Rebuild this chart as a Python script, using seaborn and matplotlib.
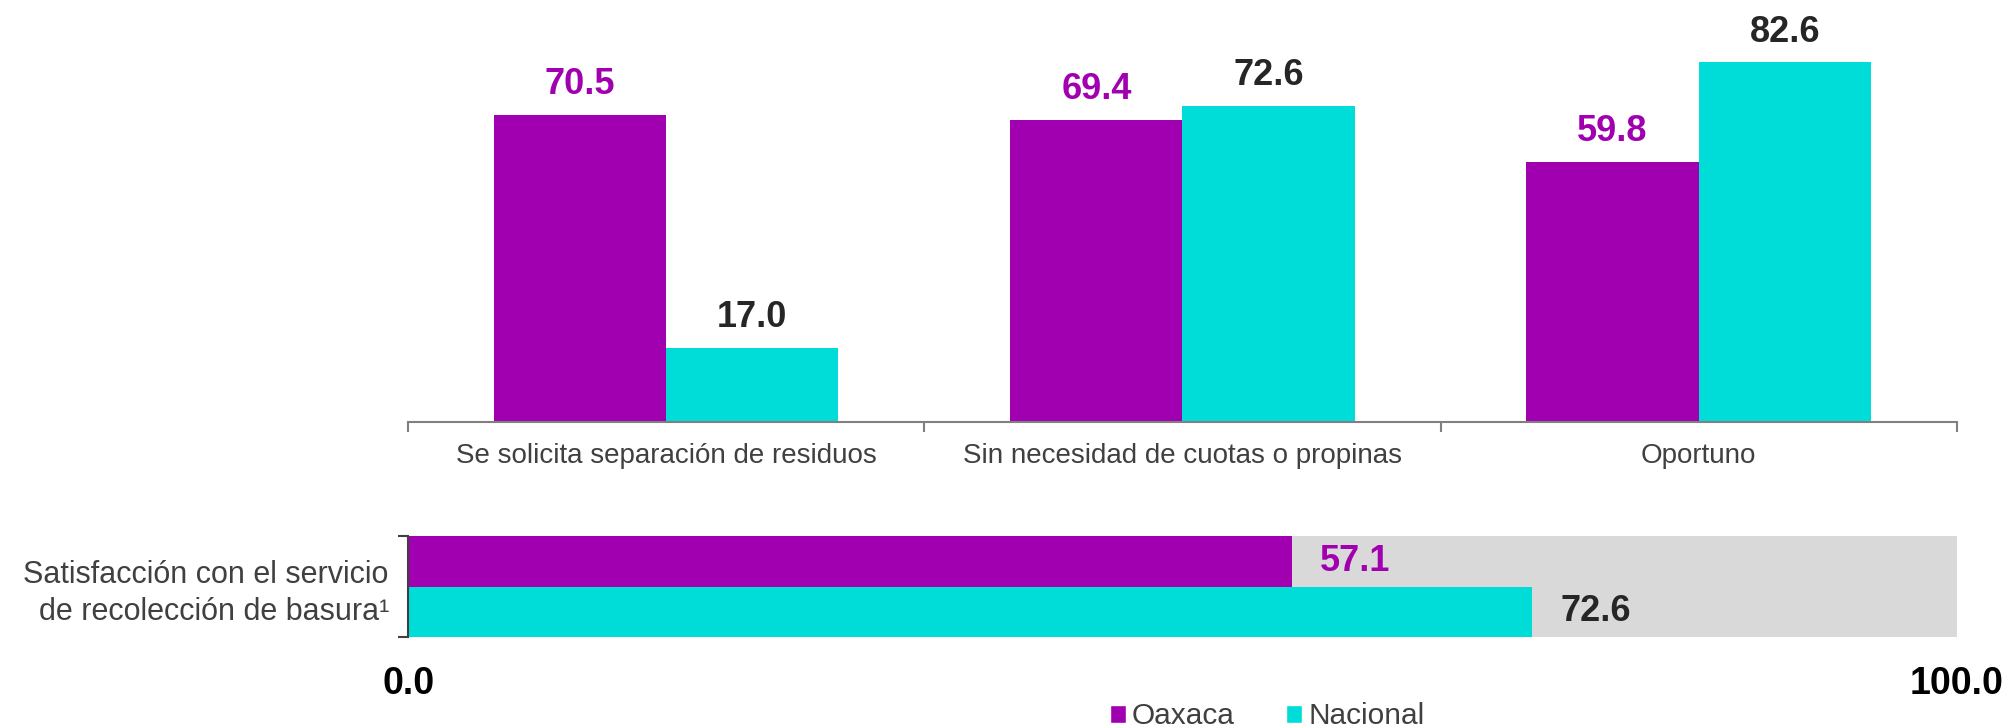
import matplotlib
matplotlib.use('Agg')
import matplotlib.pyplot as plt
from matplotlib.patches import Patch
import pandas as pd
import seaborn as sb

# Datos
categorias = ['Se solicita separación de residuos',
              'Sin necesidad de cuotas o propinas',
              'Oportuno']
series = ['Oaxaca', 'Nacional']
oaxaca = [70.5, 69.4, 59.8]
nacional = [17.0, 72.6, 82.6]

satisf_label = 'Satisfacción con el servicio\nde recolección de basura¹'
satisf_valores = [57.1, 72.6]   # Oaxaca, Nacional
eje_ticks = [0, 100]
eje_labels = ['0.0', '100.0']

colores = ['#A100B0', '#00DDD8']
color_etiquetas = ['#A100B0', '#262626']

df = pd.DataFrame({
    'categoria': categorias * 2,
    'serie': [series[0]] * 3 + [series[1]] * 3,
    'valor': oaxaca + nacional,
})
df2 = pd.DataFrame({
    'grupo': [satisf_label] * 2,
    'serie': series,
    'valor': satisf_valores,
})

sb.set_style('white')
plt.rcParams['font.family'] = ['Liberation Sans', 'DejaVu Sans']

fig = plt.figure(figsize=(20.11, 7.28), dpi=100)
ax1 = fig.add_axes([0.203, 0.4203, 0.770, 0.5797])
ax2 = fig.add_axes([0.203, 0.125, 0.770, 0.1387])

# Panel superior: barras verticales
sb.barplot(data=df, x='categoria', y='valor', hue='serie', hue_order=series,
           palette=colores, saturation=1, width=0.667, linewidth=0,
           ax=ax1, legend=False)
for cont, col in zip(ax1.containers, color_etiquetas):
    ax1.bar_label(cont, fmt='%.1f', padding=9, color=col,
                  fontsize=26, fontweight='bold')

ax1.set_xlim(-0.5, 2.5)
ax1.set_ylim(0, 96.9)
ax1.set_xlabel('')
ax1.set_ylabel('')
ax1.set_yticks([])
for s in ['left', 'top', 'right']:
    ax1.spines[s].set_visible(False)
ax1.spines['bottom'].set_color('#808080')
ax1.spines['bottom'].set_linewidth(1.5)
ax1.set_xticks([-0.5, 0.5, 1.5, 2.5], minor=True)
ax1.tick_params(axis='x', which='minor', bottom=True, direction='out',
                length=7, width=1.5, color='#808080')
ax1.tick_params(axis='x', which='major', bottom=True, length=0, pad=15,
                labelsize=20, labelcolor='#404040')

# Panel inferior: barras horizontales sobre fondo gris
sb.barplot(data=df2, x='valor', y='grupo', hue='serie', hue_order=series,
           palette=colores, saturation=1, width=1.0, linewidth=0,
           orient='h', ax=ax2, legend=False)
for cont, col in zip(ax2.containers, color_etiquetas):
    ax2.bar_label(cont, fmt='%.1f', padding=20, color=col,
                  fontsize=26, fontweight='bold')

ax2.set_facecolor('#D9D9D9')
ax2.set_xlim(0, 100)
ax2.set_ylim(0.5, -0.5)
ax2.set_xlabel('')
ax2.set_ylabel('')
for s in ['bottom', 'top', 'right']:
    ax2.spines[s].set_visible(False)
ax2.spines['left'].set_color('#404040')
ax2.spines['left'].set_linewidth(1.5)
ax2.set_yticks([-0.5, 0.5], minor=True)
ax2.tick_params(axis='y', which='minor', left=True, direction='out',
                length=7, width=1.5, color='#404040')
ax2.tick_params(axis='y', which='major', left=True, length=0, pad=14,
                labelsize=22, labelcolor='#404040')
for t in ax2.get_yticklabels():
    t.set_linespacing(1.3)
ax2.set_xticks(eje_ticks)
ax2.set_xticklabels(eje_labels, fontsize=27, fontweight='bold', color='black')
ax2.tick_params(axis='x', which='major', bottom=True, length=0, pad=21)

# Leyenda
handles = [Patch(facecolor=c, label=s) for c, s in zip(colores, series)]
fig.legend(handles=handles, loc='lower center', bbox_to_anchor=(0.63, -0.04),
           ncol=2, frameon=False, fontsize=21.5, handlelength=0.55,
           handleheight=0.55, handletextpad=0.2, columnspacing=1.7,
           labelcolor='#404040')

fig.savefig('out.png', dpi=100)
